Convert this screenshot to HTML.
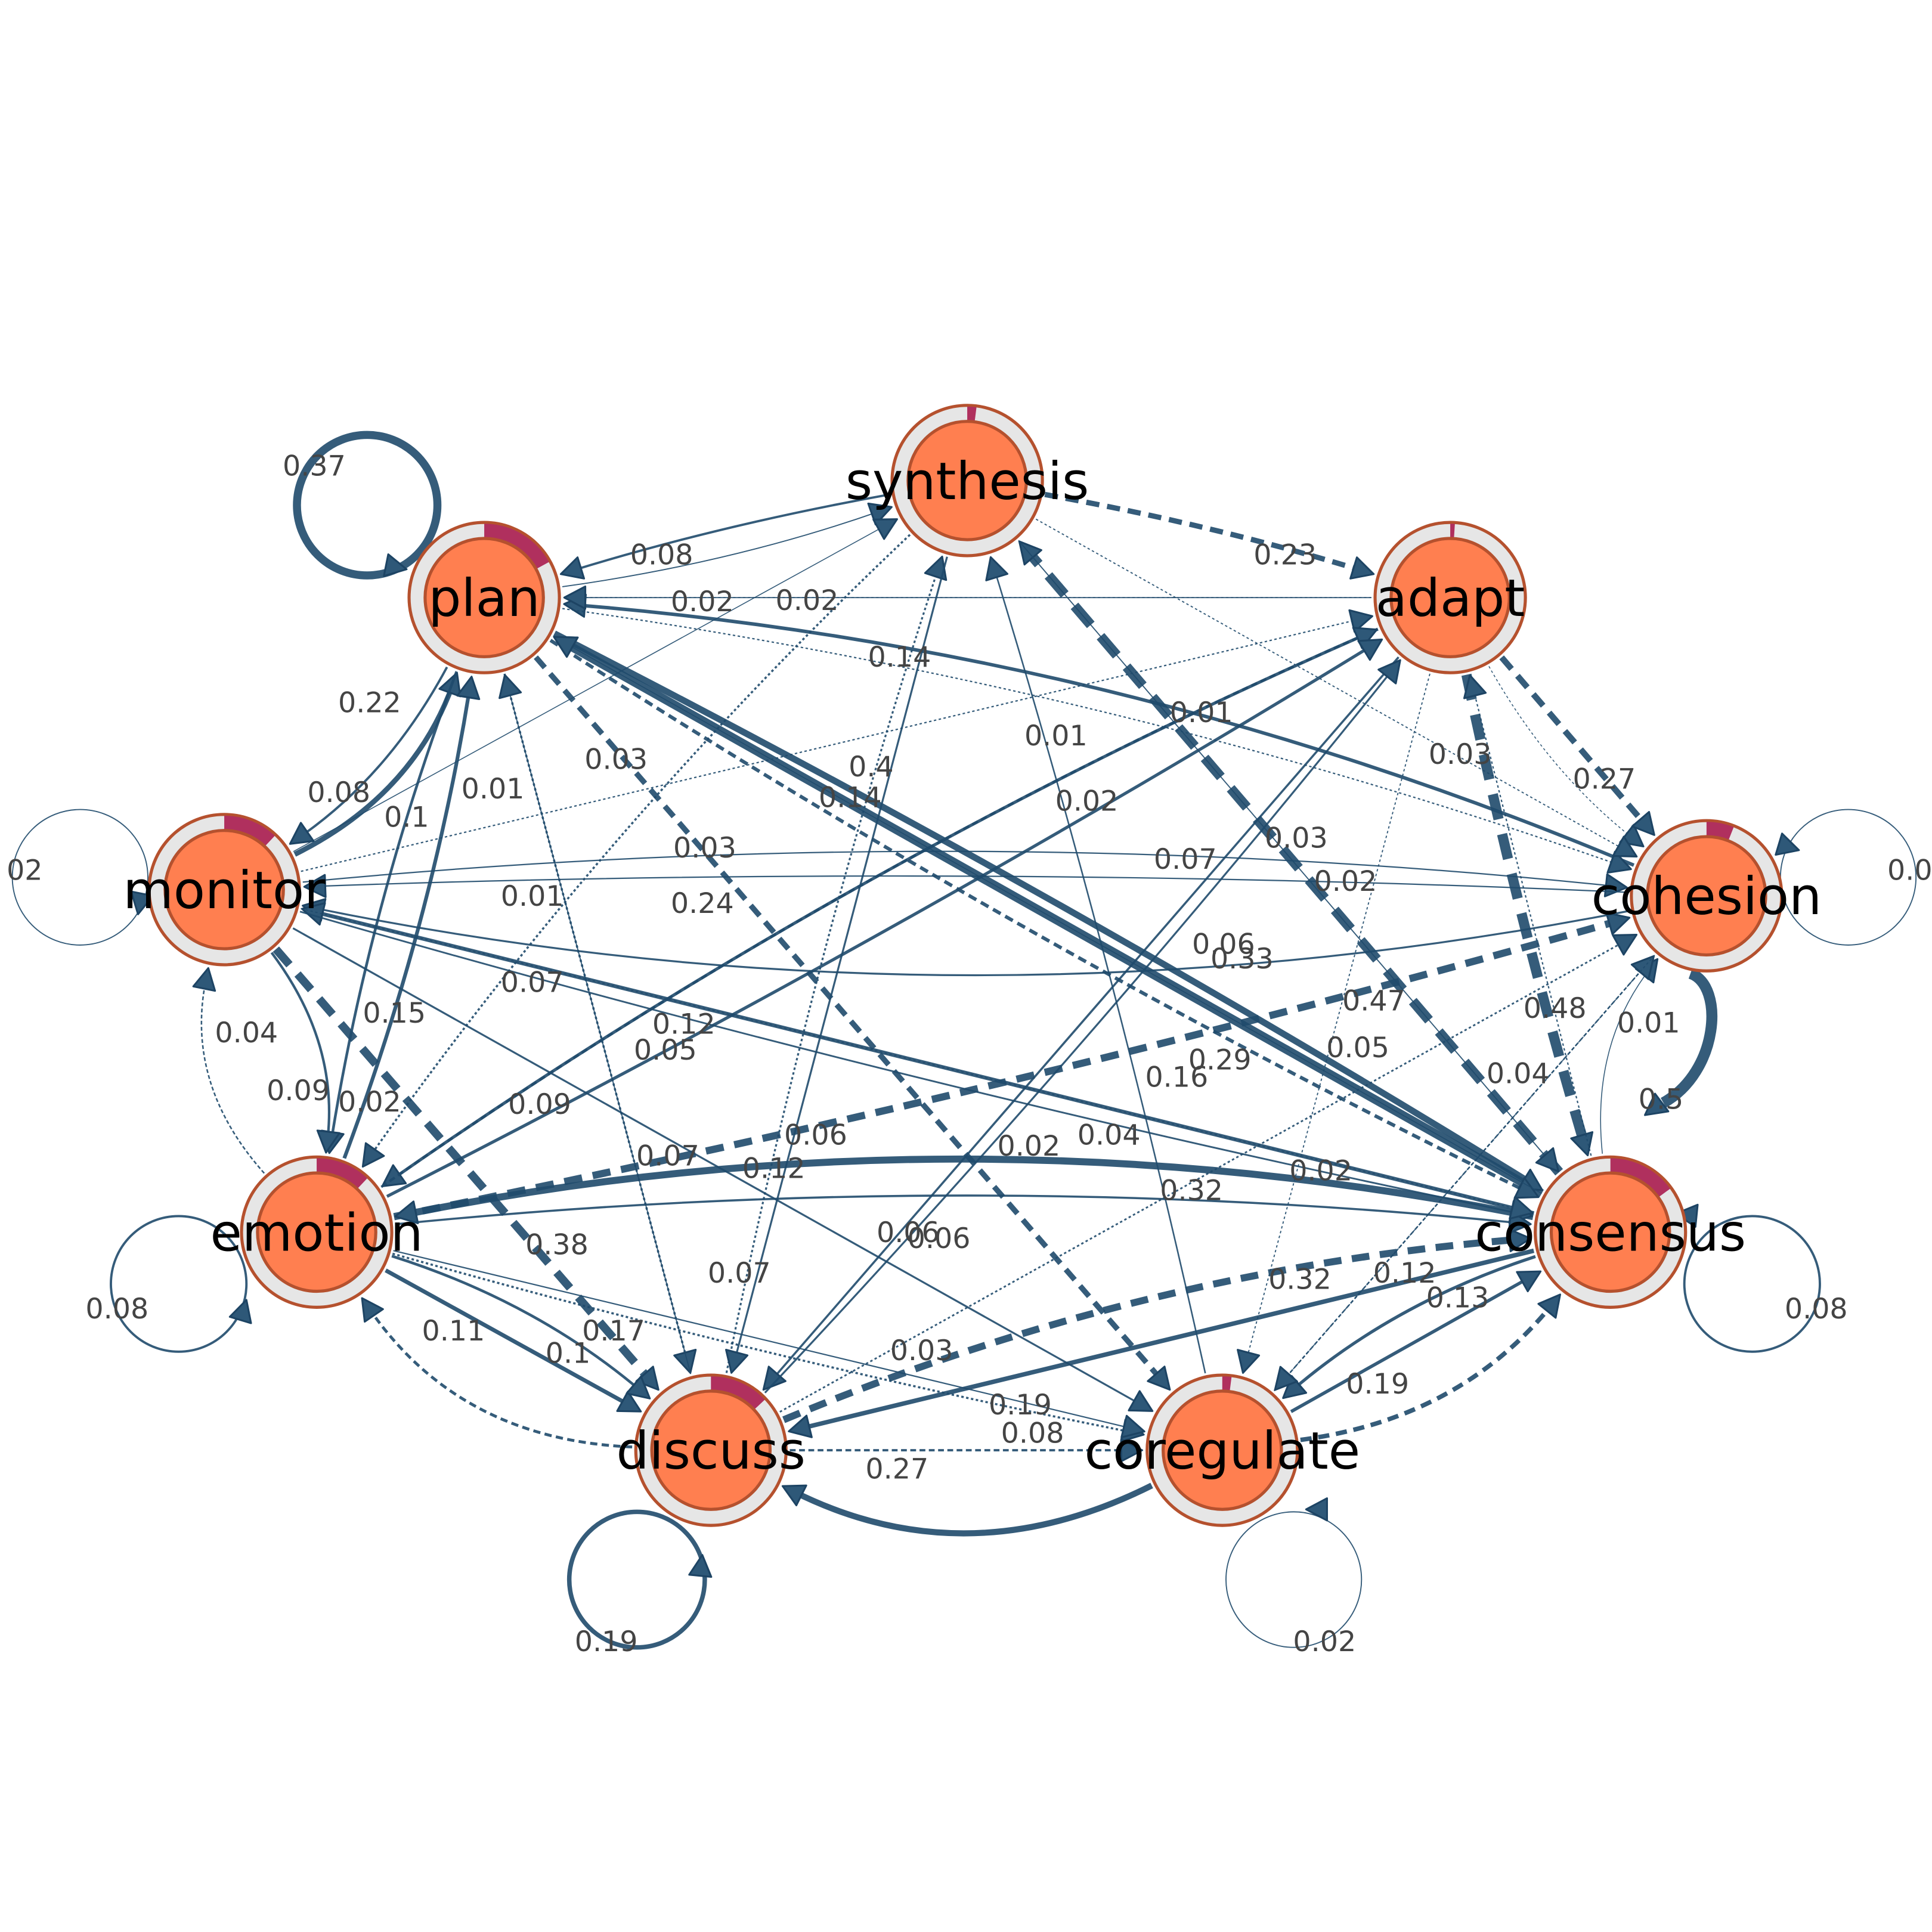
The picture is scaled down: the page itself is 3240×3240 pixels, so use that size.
<!DOCTYPE html>
<html><head><meta charset="utf-8"><style>
html,body{margin:0;padding:0;background:#fff}
svg{display:block}
</style></head><body>
<svg id="g" width="3240" height="3240" viewBox="0 0 1568 1568" xmlns="http://www.w3.org/2000/svg" font-family="DejaVu Sans, Liberation Sans, sans-serif">
<g id="edges"></g><g id="loops"></g><g id="nodes"></g><g id="labels"></g>
</svg>
<script>
const N={S:[785,390,0.02],P:[393,485,0.17],A:[1177,485,0.01],M:[182,722,0.12],C:[1385,727,0.06],E:[257,1000,0.12],K:[1307,1000,0.15],D:[577,1177,0.13],R:[992,1177,0.02]};
const names={S:"synthesis",P:"plan",A:"adapt",M:"monitor",C:"cohesion",E:"emotion",K:"consensus",D:"discuss",R:"coregulate"};
const RO=62;
const E=[
["S","P",0.08,"s",0.03,"0.08",537,450],
["S","A",0.23,"d",-0.03,"0.23",1043,450],
["A","P",0.02,"s",0,"0.02",570,488],
["P","S",0.02,"s",0.05,"0.02",655,487],
["C","P",0.14,"s",0.08,"0.14",730,533],
["A","C",0.01,"o",0.1,"0.01",975,578],
["P","C",0.03,"o",-0.05,"0.03",1185,612],
["A","C",0.27,"d",0,"0.27",1302,632],
["A","K",0.48,"d",0.02,"0.48",1262,818],
["K","S",0.47,"d",0,"0.47",1115,812],
["K","P",0.4,"s",0,"0.4",707,622],
["P","K",0.29,"s",-0.02,"0.29",990,860],
["P","K",0.14,"d",0.03,"0.14",690,647],
["P","R",0.24,"d",0,"0.24",570,733],
["K","C",0.01,"s",-0.2,"0.01",1338,830],
["E","C",0.33,"d",0.02,"0.33",1008,778],
["K","E",0.32,"s",0.1,"0.32",967,966],
["D","K",0.32,"d",-0.08,"0.32",1055,1038],
["M","D",0.38,"d",0,"0.38",452,1010],
["R","D",0.27,"s",-0.25,"0.27",728,1192],
["R","K",0.19,"d",0.2,"0.19",1118,1123],
["K","D",0.19,"s",0,"0.19",828,1140],
["M","P",0.22,"s",0.2,"0.22",300,570],
["P","M",0.08,"s",-0.12,"0.08",275,643],
["E","P",0.15,"s",0.05,"0.15",320,822],
["P","E",0.1,"s",0.05,"0.1",330,663],
["M","E",0.09,"s",-0.2,"0.09",242,885],
["E","M",0.04,"d",-0.25,"0.04",200,838],
["E","D",0.17,"s",0,"0.17",498,1080],
["D","E",0.11,"d",-0.25,"0.11",368,1080],
["E","D",0.1,"s",-0.1,"0.1",461,1098],
["D","S",0.06,"o",-0.03,"0.06",662,921],
["R","S",0.04,"s",0.02,"0.04",900,921],
["E","R",0.07,"o",0.02,"",600,1033],
["M","C",0.03,"s",-0.05,"0.03",572,688],
["C","M",0.06,"s",-0.1,"0.06",993,766],
["M","A",0.03,"o",0,"0.03",500,616],
["K","M",0.16,"s",0,"0.16",955,874],
["A","E",0.12,"s",0.05,"0.12",555,831],
["A","D",0.07,"s",0,"0.07",962,697],
["S","E",0.07,"o",0.05,"0.07",432,797],
["D","R",0.08,"d",0,"0.08",838,1163],
["K","R",0.12,"s",0.1,"0.12",1140,1033],
["R","K",0.13,"s",0,"0.13",1183,1053],
["R","C",0.04,"d",0,"0.04",1232,871],
["D","C",0.05,"o",0,"0.05",1102,850],
["M","K",0.05,"s",0.02,"0.05",540,852],
["E","A",0.09,"d",-0.05,"0.09",438,896],
["P","D",0.07,"o",0,"0.07",542,938],
["D","A",0.06,"s",0.02,"0.06",762,1005],
["S","D",0.06,"s",0,"",686,921],
["M","R",0.06,"s",0,"0.06",737,1000],
["A","R",0.02,"o",0,"0.02",835,930],
["E","K",0.07,"s",-0.05,"0.07",600,1033],
["C","R",0.02,"o",0,"",1092,715],
["A","P",0.01,"o",0,"0.01",400,640],
["M","S",0.01,"s",0,"0.01",432,727],
["S","C",0.02,"o",0,"0.02",882,650],
["C","M",0.03,"s",0.02,"0.03",1052,680],
["K","P",0.01,"s",0,"0.01",857,597],
["D","P",0.02,"s",0,"0.02",300,894],
["E","R",0.03,"s",0,"0.03",748,1096],
["S","K",0.02,"s",0,"0.02",1072,950],
["M","K",0.02,"o",0,"",815,930],
["E","A",0.12,"s",0.02,"0.12",628,948],
["K","A",0.03,"o",0,"0.02",1092,715],
];
const ns="http://www.w3.org/2000/svg";
function el(t,a,p){const e=document.createElementNS(ns,t);for(const k in a)e.setAttribute(k,a[k]);p.appendChild(e);return e;}
const ge=document.getElementById("edges"),gl=document.getElementById("labels"),gn=document.getElementById("nodes"),gp=document.getElementById("loops");
const col="#1f4a6b";
function arrow(x,y,ux,uy,p){const L=17,W=9;const bx=x-ux*L,by=y-uy*L;
el("polygon",{points:`${x},${y} ${bx-uy*W},${by+ux*W} ${bx+uy*W},${by-ux*W}`,fill:"#2e5878",stroke:"#1d4464","stroke-width":1.5,"stroke-linejoin":"round"},p);}
for(const e of E){const [f,t,w,st,cv,lab,lx,ly]=e;if(!N[f]||!N[t])continue;
const [x1,y1]=N[f],[x2,y2]=N[t];let dx=x2-x1,dy=y2-y1,L=Math.hypot(dx,dy);let ux=dx/L,uy=dy/L;
const px=-uy,py=ux;const cx=(x1+x2)/2+px*cv*L,cy=(y1+y2)/2+py*cv*L;
let sx=cx-x1,sy=cy-y1,sl=Math.hypot(sx,sy);sx/=sl;sy/=sl;let ex=x2-cx,ey=y2-cy,el2=Math.hypot(ex,ey);ex/=el2;ey/=el2;
const ax=x1+sx*(RO+2),ay=y1+sy*(RO+2),bx=x2-ex*(RO+3),by=y2-ey*(RO+3);
const sw=0.6+w*16;
const a={d:`M${ax},${ay} Q${cx},${cy} ${bx-ex*10},${by-ey*10}`,fill:"none",stroke:col,"stroke-width":sw,"stroke-opacity":0.9};
if(st=="d")a["stroke-dasharray"]=`${sw*2.5},${sw*1.5}`;if(st=="o")a["stroke-dasharray"]="2,2";
el("path",a,ge);arrow(bx,by,ex,ey,ge);
if(lab){const tx=el("text",{x:lx,y:ly+8,"font-size":23,fill:"#444","text-anchor":"middle"},gl);tx.textContent=lab;}}
const LP=[[298,410,57,0.37,"0.37",255,378,330,462,1,0.2],[65,712,55,0.02,"02",20,706,112,742,-0.2,1],[1500,712,55,0.02,"0.0",1550,706,1460,690,1,0.3],[145,1042,55,0.08,"0.08",95,1062,200,1055,0.3,-1],[1422,1042,55,0.08,"0.08",1474,1062,1360,985,-1,-0.1],[517,1282,55,0.19,"0.19",492,1332,570,1262,0.1,-1],[1050,1282,55,0.02,"0.02",1075,1332,1060,1225,-1,0]];
for(const l of LP){const [cx,cy,r,w,lab,lx,ly,axp,ayp,ux,uy]=l;el("circle",{cx,cy,r,fill:"none",stroke:col,"stroke-width":0.6+w*16,"stroke-opacity":0.9},gp);
const m=Math.hypot(ux,uy);arrow(axp,ayp,ux/m,uy/m,gp);const tx=el("text",{x:lx,y:ly+8,"font-size":23,fill:"#444","text-anchor":"middle"},gl);tx.textContent=lab;}
el("path",{d:"M1372,790 C1400,800 1395,870 1350,895",fill:"none",stroke:col,"stroke-width":9,"stroke-opacity":0.9},gp);
arrow(1335,905,-0.8,0.6,gp);
{const tx=el("text",{x:1348,y:900,"font-size":23,fill:"#444","text-anchor":"middle"},gl);tx.textContent="0.5";}
for(const k in N){const [x,y,f]=N[k];
el("circle",{cx:x,cy:y,r:61,fill:"#e6e6e6",stroke:"#b5512e","stroke-width":2.5},gn);
const a0=-Math.PI/2,a1=a0+f*2*Math.PI,ro=60,ri=49;
const lg=f>0.5?1:0;
el("path",{d:`M${x+ro*Math.cos(a0)},${y+ro*Math.sin(a0)} A${ro},${ro} 0 ${lg} 1 ${x+ro*Math.cos(a1)},${y+ro*Math.sin(a1)} L${x+ri*Math.cos(a1)},${y+ri*Math.sin(a1)} A${ri},${ri} 0 ${lg} 0 ${x+ri*Math.cos(a0)},${y+ri*Math.sin(a0)} Z`,fill:"#b0305e"},gn);
el("circle",{cx:x,cy:y,r:48,fill:"#ff7f50",stroke:"#b5512e","stroke-width":2.5},gn);
const tx=el("text",{x:x,y:y+15,"font-size":42,fill:"#000","text-anchor":"middle"},gl);tx.textContent=names[k];}
</script>
</body></html>
